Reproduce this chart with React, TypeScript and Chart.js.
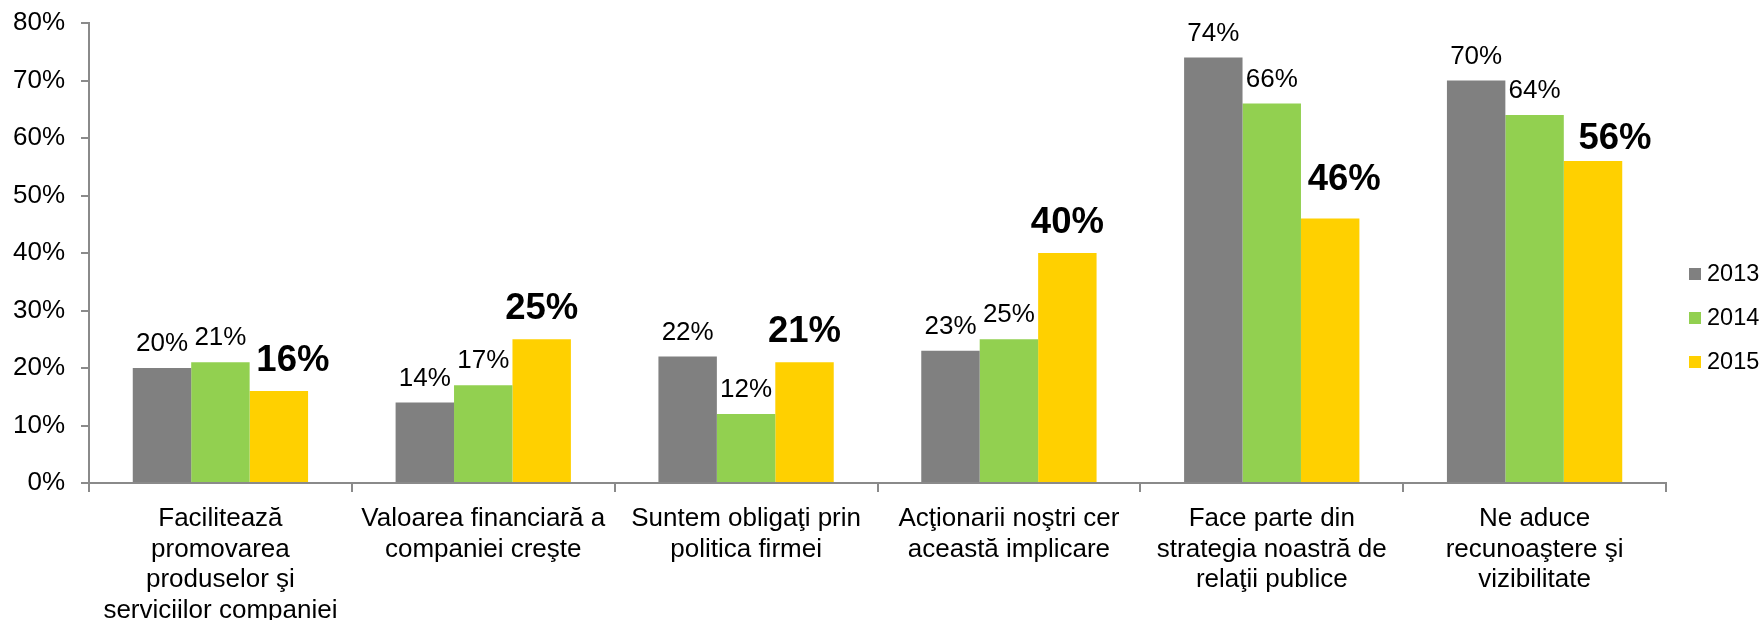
import React, { useEffect, useRef } from "react";
import { Chart, registerables } from "chart.js";

Chart.register(...registerables);

const categories: string[][] = [
  ["Facilitează", "promovarea", "produselor şi", "serviciilor companiei"],
  ["Valoarea financiară a", "companiei creşte"],
  ["Suntem obligaţi prin", "politica firmei"],
  ["Acţionarii noştri cer", "această implicare"],
  ["Face parte din", "strategia noastră de", "relaţii publice"],
  ["Ne aduce", "recunoaştere şi", "vizibilitate"],
];

const seriesNames = ["2013", "2014", "2015"];
const values2013 = [20, 14, 22, 23, 74, 70];
const values2014 = [21, 17, 12, 25, 66, 64];
const values2015 = [16, 25, 21, 40, 46, 56];
const yTicks = [0, 10, 20, 30, 40, 50, 60, 70, 80];

const colors = ["#808080", "#92D050", "#FFD000"];
// label nudges for the bold 2015 labels (dx, dy in px)
const boldNudges: [number, number][] = [
  [14, 0],
  [0, 0],
  [0, 0],
  [0, 0],
  [14, -9],
  [22, 8],
];

const FONT = "'Liberation Sans', Arial, sans-serif";
const AXIS_COLOR = "#8a8a8a";

const labelPlugin = {
  id: "barLabels",
  afterDatasetsDraw(chart: any) {
    const ctx = chart.ctx;
    ctx.save();
    ctx.fillStyle = "#000";
    ctx.textAlign = "center";
    ctx.textBaseline = "alphabetic";
    chart.data.datasets.forEach((ds: any, i: number) => {
      const meta = chart.getDatasetMeta(i);
      meta.data.forEach((el: any, j: number) => {
        const v = ds.data[j];
        const txt = v + "%";
        if (i === 2) {
          const [dx, dy] = boldNudges[j];
          ctx.font = `bold 36.5px ${FONT}`;
          ctx.fillText(txt, el.x + dx, el.y - 20 + dy);
        } else {
          ctx.font = `26px ${FONT}`;
          ctx.fillText(txt, el.x, el.y - 17);
        }
      });
    });
    ctx.restore();
  },
};

const legendPlugin = {
  id: "sideLegend",
  afterDraw(chart: any) {
    const ctx = chart.ctx;
    const area = chart.chartArea;
    const x0 = area.right + 23;
    const rowGap = 44;
    const n = chart.data.datasets.length;
    const cy = chart.height / 2 + 8;
    ctx.save();
    ctx.font = `23.5px ${FONT}`;
    ctx.textAlign = "left";
    ctx.textBaseline = "middle";
    chart.data.datasets.forEach((ds: any, i: number) => {
      const y = cy + (i - (n - 1) / 2) * rowGap;
      ctx.fillStyle = ds.backgroundColor;
      ctx.fillRect(x0, y - 6, 12, 12);
      ctx.fillStyle = "#000";
      ctx.fillText(ds.label, x0 + 18, y + 1);
    });
    ctx.restore();
  },
};

export default function App() {
  const ref = useRef<HTMLCanvasElement>(null);
  useEffect(() => {
    document.body.style.margin = "0";
    const canvas = ref.current!;
    const chart = new Chart(canvas, {
      type: "bar",
      data: {
        labels: categories,
        datasets: [values2013, values2014, values2015].map((d, i) => ({
          label: seriesNames[i],
          data: d,
          backgroundColor: colors[i],
          borderWidth: 0,
          categoryPercentage: 0.667,
          barPercentage: 1,
        })),
      },
      options: {
        animation: false,
        responsive: false,
        layout: { padding: { top: 23, right: 97, left: 0, bottom: 0 } },
        plugins: {
          legend: { display: false },
          tooltip: { enabled: false },
        },
        scales: {
          x: {
            grid: {
              display: true,
              offset: true,
              drawOnChartArea: false,
              drawTicks: true,
              tickLength: 9,
              color: AXIS_COLOR,
              lineWidth: 2,
            },
            border: { display: true, color: AXIS_COLOR, width: 2 },
            ticks: {
              color: "#000",
              font: { family: FONT, size: 26, lineHeight: 1.17 },
              padding: 12,
              maxRotation: 0,
              autoSkip: false,
            },
            afterFit: (s: any) => {
              s.height = 137;
              s.paddingLeft = 0;
              s.paddingRight = 0;
            },
          },
          y: {
            min: 0,
            max: 80,
            afterBuildTicks: (s: any) => {
              s.ticks = yTicks.map((v) => ({ value: v }));
            },
            grid: {
              display: true,
              drawOnChartArea: false,
              drawTicks: true,
              tickLength: 8,
              color: AXIS_COLOR,
              lineWidth: 2,
            },
            border: { display: true, color: AXIS_COLOR, width: 2 },
            ticks: {
              color: "#000",
              font: { family: FONT, size: 26 },
              padding: 16,
              callback: (v: any) => v + "%",
            },
            afterFit: (s: any) => {
              s.width = 89;
              s.paddingTop = 0;
              s.paddingBottom = 0;
            },
          },
        },
      },
      plugins: [labelPlugin, legendPlugin],
    });
    return () => chart.destroy();
  }, []);
  return (
    <div style={{ width: 1763, height: 620, background: "#fff" }}>
      <canvas ref={ref} width={1763} height={620} style={{ display: "block" }} />
    </div>
  );
}
